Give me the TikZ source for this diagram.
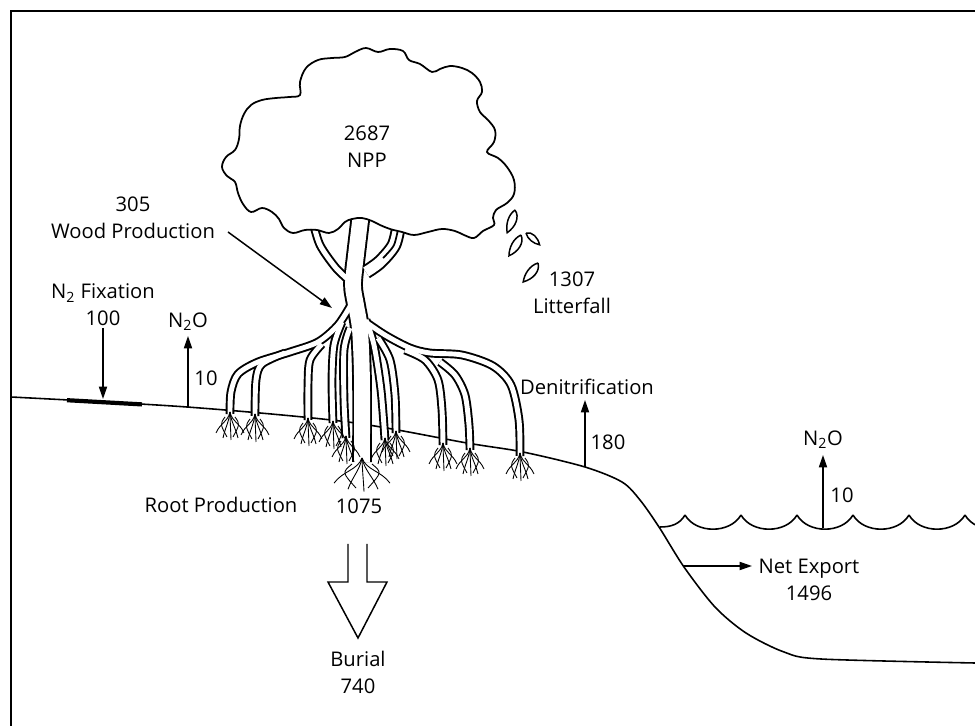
\documentclass[tikz,border=0pt]{standalone}
\usepackage{fontspec}
\setmainfont{Open Sans}
\usetikzlibrary{arrows.meta,calc}

\tikzset{
  flux/.style={-{Triangle[length=7pt,width=4.6pt]},line width=0.85pt},
  lbl/.style={font=\fontsize{11.5}{15.3}\selectfont,align=center,inner sep=0pt},
  hair/.style={line width=0.5pt},
  tuft/.pic={
    \foreach \ex/\ey in {-14/21,-7/26,1/28,8/26,14/21}
      \draw[hair] (0,0) .. controls (0.15*\ex,10) and (0.7*\ex,\ey-10) .. (\ex,\ey);
    \foreach \ex in {-10,10}
      \draw[hair] (0.5*\ex,5) .. controls (\ex,12) .. (0.3*\ex,25);
  },
  leaf/.pic={
    \draw[line width=0.85pt] (0,0) .. controls (7,5) and (6,16) .. (0,24)
      .. controls (-4,17) and (-5,7) .. (0,0);
  }
}

% trunk and prop roots, drawn twice: black rim, then white core
\newcommand{\mangrove}[2]{%
  \begin{scope}[color=#2]
    \draw[line width=9pt+#1] plot[smooth] coordinates {(362,205) (356,255) (353,285) (356,305) (360,330) (362,380) (362,462)};
    \draw[line width=2.8pt+#1] plot[smooth] coordinates {(313,222) (320,245) (336,268) (352,283)};
    \draw[line width=6pt+#1] plot[smooth] coordinates {(399,224) (394,245) (380,262) (366,272)};
    % left roots
    \draw[line width=2.8pt+#1] plot[smooth] coordinates {(352,303) (338,325) (318,342) (290,352) (258,362) (238,374) (231,392) (230,414)};
    \draw[line width=2.8pt+#1] plot[smooth] coordinates {(285,353) (262,364) (256,380) (255,416)};
    \draw[line width=2.8pt+#1] plot[smooth] coordinates {(322,344) (310,360) (308,385) (308,420)};
    \draw[line width=2.8pt+#1] plot[smooth] coordinates {(342,322) (334,345) (332,380) (333,423)};
    \draw[line width=2.8pt+#1] plot[smooth] coordinates {(350,328) (344,350) (344,400) (346,438)};
    % right roots
    \draw[line width=2.8pt+#1] plot[smooth] coordinates {(366,320) (374,345) (381,390) (385,440)};
    \draw[line width=2.8pt+#1] plot[smooth] coordinates {(378,338) (390,360) (395,395) (396,433)};
    \draw[line width=2.8pt+#1] plot[smooth] coordinates {(360,318) (385,335) (410,348) (430,353) (462,355) (493,366) (511,385) (519,420) (520,456)};
    \draw[line width=2.8pt+#1] plot[smooth] coordinates {(405,350) (425,360) (438,380) (442,410) (443,445)};
    \draw[line width=2.8pt+#1] plot[smooth] coordinates {(440,362) (455,375) (465,395) (469,425) (470,450)};
  \end{scope}}

\begin{document}
\begin{tikzpicture}[x=0.02cm,y=-0.02cm]
\useasboundingbox (0,0) rectangle (975,726);

% frame
\draw[line width=1.6pt] (11,726) -- (11,11) -- (975,11);

% ground and water
\draw[line width=0.9pt] plot[smooth,tension=0.5] coordinates {(11,397) (187,407) (348,422) (467,443) (523,452) (585,467) (622,482) (640,500) (659,527) (684,567) (715,607) (746,633) (784,652) (821,659) (975,663)};
\draw[line width=2.4pt] (67,400.2) -- (142,404.4);
\draw[line width=0.9pt] (660,527) to[out=0,in=-120] (685,515);
\foreach \i in {0,...,5}
  \draw[line width=0.9pt] (685+56*\i,515) to[out=-60,in=-120] (741+56*\i,515);

% tree
\mangrove{2.2pt}{black}
\mangrove{0pt}{white}
\draw[line width=1pt] plot[smooth] coordinates {(399,224) (394,245) (383,258)};
\filldraw[fill=white,line width=1pt] plot[smooth cycle,tension=0.6] coordinates {
  (300,95) (300,82) (306,68) (318,60) (332,58) (345,57) (355,52) (366,48) (378,52)
  (390,49) (403,51) (409,60) (420,64) (432,72) (440,69) (450,66) (462,68) (472,73)
  (480,82) (482,92) (477,101) (480,112) (488,120) (495,130) (494,142) (487,152)
  (498,158) (507,167) (514,180) (514,194) (507,203) (496,210) (493,218) (494,225)
  (483,231) (474,238) (464,235) (455,231) (442,229) (428,232) (414,235) (402,232)
  (390,229) (380,225) (372,221) (362,218) (352,219) (345,222) (338,229) (329,233)
  (317,230) (305,230) (293,233) (284,228) (279,219) (272,212) (262,208) (251,212)
  (243,204) (238,193) (235,182) (227,176) (222,167) (226,157) (235,150) (239,139)
  (240,126) (244,114) (251,105) (262,100) (276,98) (289,97)};

\foreach \px/\py in {230/412,255/414,308/418,333/421,346/436,385/438,396/431,443/443,470/448,520/453}
  \pic at (\px,\py) {tuft};
\pic[xscale=2,yscale=1.2] at (362,458) {tuft};

% litterfall
\pic[rotate=-19] at (515,210) {leaf};
\pic[rotate=-30] at (521,235) {leaf};
\pic[rotate=49,scale=0.75] at (526,233) {leaf};
\pic[rotate=-38] at (538,263) {leaf};

% fluxes
\node[lbl] (npp) at (367,147) {2687\\NPP};
\node[lbl] (wood) at (133,218) {305\\Wood Production};
\coordinate (woodtail) at (228,232);
\coordinate (woodtip) at (332,308);
\draw[flux] (woodtail) -- (woodtip);

\node[lbl] (fix) at (103,305) {N\textsubscript{2} Fixation\\100};
\coordinate (fixtop) at (103,328);
\coordinate (fixbot) at (103,399);
\draw[flux] (fixtop) -- (fixbot);

\node[lbl] (nleft) at (188,322) {N\textsubscript{2}O};
\node[lbl] (nleftval) at (206,378) {10};
\coordinate (nleftbot) at (188,407);
\coordinate (nlefttop) at (188,336);
\draw[flux] (nleftbot) -- (nlefttop);

\node[lbl] (litter) at (572,293) {1307\\Litterfall};

\node[lbl] (denit) at (587,387) {Denitrification};
\node[lbl] (denitval) at (608,442) {180};
\coordinate (denitbot) at (585,467);
\coordinate (denittop) at (585,400);
\draw[flux] (denitbot) -- (denittop);

\node[lbl] (rootprod) at (221,505) {Root Production};
\node[lbl] (rootval) at (359,506) {1075};

\draw[line width=0.85pt] (348,544) -- (348,582) -- (328,582) -- (358,638) -- (387,582) -- (367,582) -- (367,544);
\node[lbl] (burial) at (358,672) {Burial\\740};

\coordinate (exptail) at (683,566);
\coordinate (exptip) at (752,566);
\draw[flux] (exptail) -- (exptip);
\node[lbl] (export) at (809,580) {Net Export\\1496};

\node[lbl] (nright) at (823,440) {N\textsubscript{2}O};
\node[lbl] (nrightval) at (842,495) {10};
\coordinate (nrightbot) at (823,528);
\coordinate (nrighttop) at (823,455);
\draw[flux] (nrightbot) -- (nrighttop);

\end{tikzpicture}
\end{document}
